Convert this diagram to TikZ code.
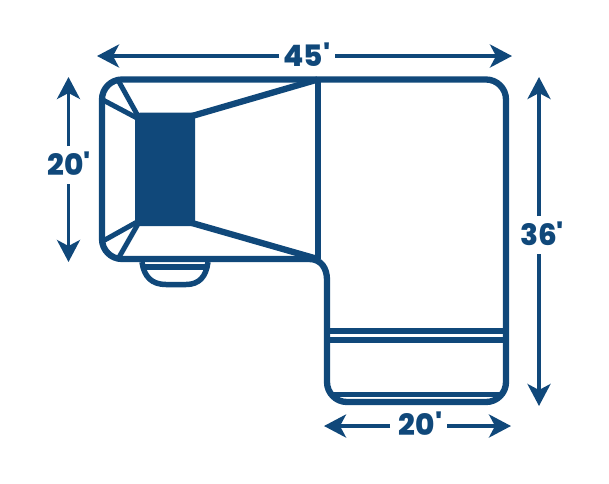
\documentclass[tikz,border=0pt]{standalone}
\usepackage{fontspec}
\newfontfamily\dimfont{Poppins}[BoldFont={Poppins ExtraBold}]
\usetikzlibrary{arrows.meta}
\definecolor{navy}{HTML}{10487A}
\tikzset{
  x=1pt,y=-1pt,
  sofa/.style={draw=navy,line width=6.3pt,line join=round},
  dimline/.style={draw=navy,line width=3.6pt,-{Stealth[length=22pt,width=23pt,inset=6pt]}},
  dimtext/.style={text=navy,font=\dimfont\bfseries\fontsize{29.5}{30}\selectfont,inner sep=0pt}
}
\begin{document}
\begin{tikzpicture}
\useasboundingbox (0,0) rectangle (609,483);
% cushion below the chaise arm
\draw[sofa,line width=5.5pt] (142,262) .. controls (144,277) and (152,284.5) .. (166,284.5) -- (186,284.5) .. controls (199,284.5) and (206,277) .. (208,262);
\draw[sofa] (141,267) -- (209,267);
% outline
\draw[sofa] (200,79.5) [rounded corners=20pt] -- (506,79.5) -- (506,402) -- (327,402) -- (327,300) [rounded corners=0pt] -- (327,280) .. controls (327,268) and (321,259) .. (309,259) [rounded corners=20pt] -- (102,259) -- (102,79.5) -- cycle;
% dark block
\fill[navy] (135,116) -- (140,112.5) -- (195,112.5) -- (195,226) -- (140,226) -- (135,222) -- cycle;
% inner lines
\draw[sofa] (317.7,79.5) -- (317.7,259);
\draw[sofa] (317.7,79.5) -- (192,116);
\draw[sofa] (317.7,259) -- (192,223);
\draw[sofa,line width=5pt] (118,80) -- (138,116);
\draw[sofa,line width=5pt] (103,100) -- (137,118);
\draw[sofa,line width=5pt] (118,259) -- (138,224);
\draw[sofa,line width=5pt] (103,241) -- (137,222);
% chaise lines
\draw[sofa] (327,331) -- (506,331);
\draw[sofa] (327,340) -- (506,340);
\draw[sofa,line width=5.5pt] (331,394.5) -- (502,394.5);
% dimensions
\node[dimtext] (t45) at (307,55) {45'};
\node[dimtext] (l20) at (69,164) {20'};
\node[dimtext] (r36) at (542,234) {36'};
\node[dimtext] (b20) at (420.5,424) {20'};
\coordinate (t45a) at (97,56);
\coordinate (t45b) at (512,56);
\coordinate (t45c) at (279,56);
\coordinate (t45d) at (335,56);
\coordinate (l20a) at (68.5,77);
\coordinate (l20b) at (68.5,262);
\coordinate (l20c) at (68.5,146);
\coordinate (l20d) at (68.5,184);
\coordinate (r36a) at (539,77);
\coordinate (r36b) at (539,406);
\coordinate (r36c) at (539,216);
\coordinate (r36d) at (539,254);
\coordinate (b20a) at (324,426);
\coordinate (b20b) at (511,426);
\coordinate (b20c) at (390,426);
\coordinate (b20d) at (447,426);
\draw[dimline] (t45c) -- (t45a);
\draw[dimline] (t45d) -- (t45b);
\draw[dimline] (l20c) -- (l20a);
\draw[dimline] (l20d) -- (l20b);
\draw[dimline] (r36c) -- (r36a);
\draw[dimline] (r36d) -- (r36b);
\draw[dimline] (b20c) -- (b20a);
\draw[dimline] (b20d) -- (b20b);
\end{tikzpicture}
\end{document}
